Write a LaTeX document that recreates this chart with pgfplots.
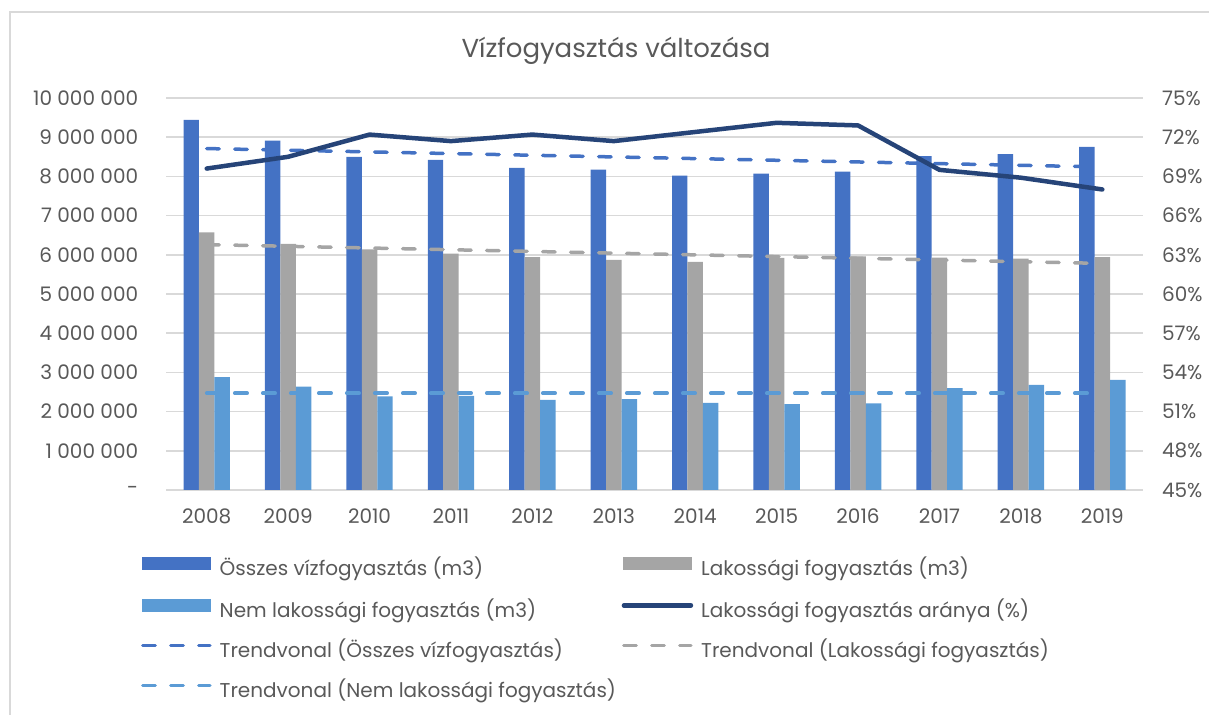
\documentclass[border=0pt]{standalone}
\usepackage{pgfplots}
\pgfplotsset{compat=1.18}
\usepackage{pgfplotstable}
\usepackage{fontspec}
\setmainfont{Poppins}
\definecolor{cTot}{HTML}{4472C4}
\definecolor{cRes}{HTML}{A5A5A5}
\definecolor{cNon}{HTML}{5B9BD5}
\definecolor{cRat}{HTML}{264478}
\definecolor{cTxt}{HTML}{595959}
\definecolor{cGrid}{HTML}{D9D9D9}

\pgfplotstableread{
x tot res non rat
0 9440000 6570000 2880000 69.6
1 8910000 6280000 2640000 70.5
2 8500000 6140000 2390000 72.2
3 8420000 6030000 2400000 71.7
4 8220000 5940000 2300000 72.2
5 8170000 5870000 2320000 71.7
6 8020000 5820000 2220000 72.4
7 8070000 5920000 2190000 73.1
8 8120000 5960000 2210000 72.9
9 8520000 5930000 2600000 69.5
10 8570000 5900000 2680000 68.9
11 8750000 5940000 2810000 68.0
}\data

\newcommand{\lgfont}{\fontsize{10}{12}\selectfont}
\tikzset{trend/.style={line width=1.75pt, line cap=round, dash pattern=on 6.25pt off 7.75pt}}

\begin{document}
\begin{tikzpicture}
\useasboundingbox (0,0) rectangle (604.5pt,357.5pt);
\draw[cGrid, line width=0.75pt] (5pt,0) -- (5pt,351.5pt) -- (604.5pt,351.5pt);
\begin{axis}[
  at={(83pt,112.5pt)}, anchor=south west, scale only axis,
  width=488.5pt, height=196pt,
  xmin=-0.5, xmax=11.5, ymin=0, ymax=10000000,
  xtick={0,...,11},
  xticklabels={2008,2009,2010,2011,2012,2013,2014,2015,2016,2017,2018,2019},
  ytick={0,1000000,2000000,3000000,4000000,5000000,6000000,7000000,8000000,9000000,10000000},
  yticklabels={-,1 000 000,2 000 000,3 000 000,4 000 000,5 000 000,6 000 000,7 000 000,8 000 000,9 000 000,10 000 000},
  scaled y ticks=false,
  axis line style={draw=none}, tick style={draw=none},
  ymajorgrids, major grid style={cGrid, line width=0.75pt},
  tick label style={font=\lgfont, text=cTxt},
  xticklabel style={yshift=-5.75pt},
  yticklabel style={xshift=-10.4pt},
  title={Vízfogyasztás változása},
  title style={at={(0.4606,1.0892)}, anchor=center, font=\fontsize{13}{15}\selectfont, text=cTxt},
]
\addplot[ybar, bar width=0.19, bar shift=-0.19, fill=cTot, draw=none] table[x=x,y=tot]{\data};
\addplot[ybar, bar width=0.19, bar shift=0, fill=cRes, draw=none] table[x=x,y=res]{\data};
\addplot[ybar, bar width=0.19, bar shift=0.19, fill=cNon, draw=none] table[x=x,y=non]{\data};
\addplot[cTot, trend] coordinates {(0,8710000) (11,8240000)};
\addplot[cRes, trend] coordinates {(0,6260000) (11,5780000)};
\addplot[cNon, trend] coordinates {(0,2470000) (11,2470000)};
\end{axis}
\begin{axis}[
  at={(83pt,112.5pt)}, anchor=south west, scale only axis,
  width=488.5pt, height=196pt,
  xmin=-0.5, xmax=11.5, ymin=45, ymax=75,
  hide x axis, axis y line*=right,
  axis line style={draw=none}, tick style={draw=none},
  ytick={45,48,51,54,57,60,63,66,69,72,75},
  yticklabels={45\%,48\%,51\%,54\%,57\%,60\%,63\%,66\%,69\%,72\%,75\%},
  tick label style={font=\lgfont, text=cTxt},
  yticklabel style={xshift=6pt},
  legend columns=2,
  legend style={at={(-0.02559,-0.171)}, anchor=north west, draw=none, fill=none,
    inner sep=0pt, outer sep=0pt, column sep=4pt, row sep=9pt,
    nodes={inner sep=0pt, text height=8pt, text depth=3pt, font=\lgfont, text=cTxt}},
  legend cell align=left,
]
\addlegendimage{legend image code/.code={\fill[cTot] (0.5pt,0.3pt) rectangle (34.5pt,6.3pt);}}
\addlegendentry{\makebox[197pt][l]{Összes vízfogyasztás (m3)}}
\addlegendimage{legend image code/.code={\fill[cRes] (0.5pt,0.3pt) rectangle (34.5pt,6.3pt);}}
\addlegendentry{Lakossági fogyasztás (m3)}
\addlegendimage{legend image code/.code={\fill[cNon] (0.5pt,0.3pt) rectangle (34.5pt,6.3pt);}}
\addlegendentry{\makebox[197pt][l]{Nem lakossági fogyasztás (m3)}}
\addlegendimage{legend image code/.code={\draw[cRat, line width=2.25pt, line cap=round] (1pt,3.3pt) -- (34.5pt,3.3pt);}}
\addlegendentry{Lakossági fogyasztás aránya (\%)}
\addlegendimage{legend image code/.code={\draw[cTot, trend] (0.9pt,3.3pt) -- (34.5pt,3.3pt);}}
\addlegendentry{\makebox[197pt][l]{Trendvonal (Összes vízfogyasztás)}}
\addlegendimage{legend image code/.code={\draw[cRes, trend] (0.9pt,3.3pt) -- (34.5pt,3.3pt);}}
\addlegendentry{Trendvonal (Lakossági fogyasztás)}
\addlegendimage{legend image code/.code={\draw[cNon, trend] (0.9pt,3.3pt) -- (34.5pt,3.3pt);}}
\addlegendentry{\makebox[197pt][l]{Trendvonal (Nem lakossági fogyasztás)}}
\addplot[cRat, line width=2.25pt, line join=round, line cap=round, forget plot] table[x=x,y=rat]{\data};
\end{axis}
\end{tikzpicture}
\end{document}
